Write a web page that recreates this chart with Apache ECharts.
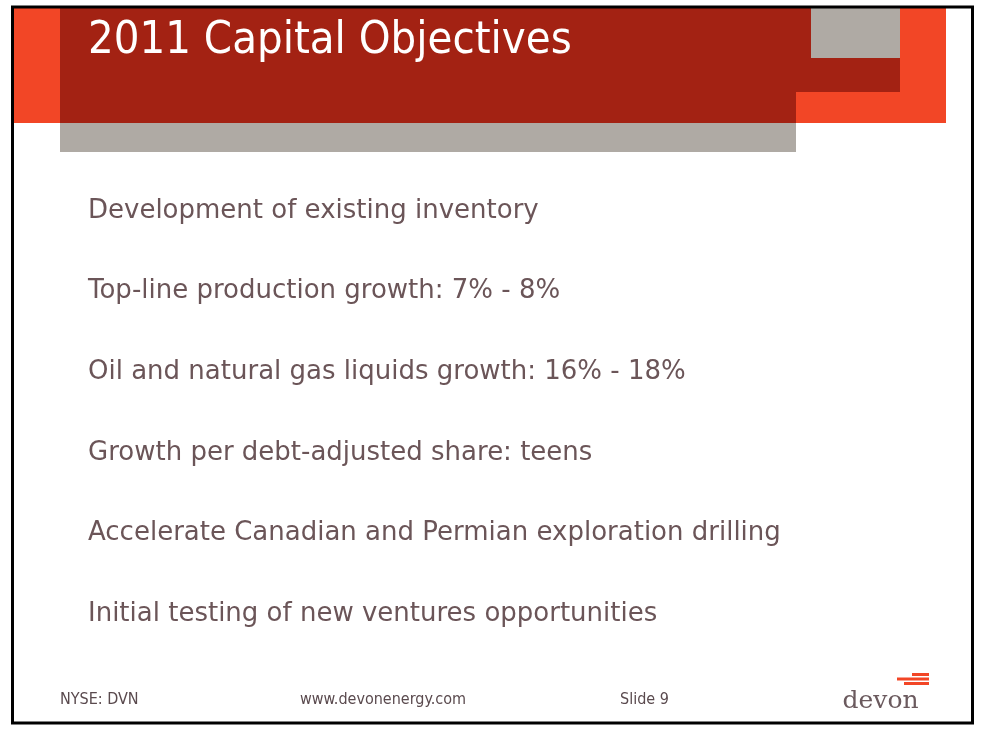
<!DOCTYPE html>
<html>
<head>
<meta charset="utf-8">
<script src="https://cdn.jsdelivr.net/npm/echarts@6/dist/echarts.min.js"></script>
<style>html,body{margin:0;padding:0;background:#fff}#c{width:984px;height:739px}</style>
</head>
<body>
<div id="c"></div>
<script>
var titleText = '2011 Capital Objectives';
var bullets = [
  'Development of existing inventory',
  'Top-line production growth: 7% - 8%',
  'Oil and natural gas liquids growth: 16% - 18%',
  'Growth per debt-adjusted share: teens',
  'Accelerate Canadian and Permian exploration drilling',
  'Initial testing of new ventures opportunities'
];
var footerLeft = 'NYSE: DVN';
var footerMid = 'www.devonenergy.com';
var footerRight = 'Slide 9';
var logoText = 'devon';

var FONTC = '"DejaVu Sans Condensed", "DejaVu Sans", sans-serif';
var FONT = '"DejaVu Sans", sans-serif';
var TXT = '#6b5558';
var chart = echarts.init(document.getElementById('c'));
var els = [];
function rect(x, y, w, h, fill) {
  els.push({type: 'rect', shape: {x: x, y: y, width: w, height: h}, style: {fill: fill}, silent: true});
}
// header blocks
rect(14, 8, 932, 115, '#f24626');
rect(60, 8, 840, 84, '#a32213');
rect(60, 92, 736, 31, '#a32213');
rect(811, 8, 89, 50, '#afaaa4');
rect(60, 123, 736, 29, '#afaaa4');
els.push({type: 'text', x: 88, y: 41, style: {text: titleText, fill: '#ffffff', font: '45px ' + FONTC, verticalAlign: 'middle'}});
bullets.forEach(function (b, i) {
  els.push({type: 'text', x: 88, y: 211 + i * 80.6, style: {text: b, fill: TXT, font: '26px ' + FONT, verticalAlign: 'middle'}});
});
els.push({type: 'text', x: 60, y: 700, style: {text: footerLeft, fill: '#5a4a4e', font: '16px ' + FONTC, verticalAlign: 'middle'}});
els.push({type: 'text', x: 300, y: 700, style: {text: footerMid, fill: '#5a4a4e', font: '16px ' + FONTC, verticalAlign: 'middle'}});
els.push({type: 'text', x: 620, y: 700, style: {text: footerRight, fill: '#5a4a4e', font: '16px ' + FONTC, verticalAlign: 'middle'}});
// logo
rect(912, 673, 17, 3, '#f24626');
rect(897, 677.5, 32, 3, '#f24626');
rect(904, 682, 25, 3, '#f24626');
els.push({type: 'text', x: 880.5, y: 701, style: {text: logoText, fill: '#6b5a5e', font: '25px "DejaVu Serif", serif', align: 'center', verticalAlign: 'middle'}});
// border
els.push({type: 'rect', shape: {x: 12.5, y: 7, width: 960, height: 716}, style: {fill: null, stroke: '#000', lineWidth: 3}, silent: true});
chart.setOption({animation: false, graphic: {elements: els}});
</script>
</body>
</html>
